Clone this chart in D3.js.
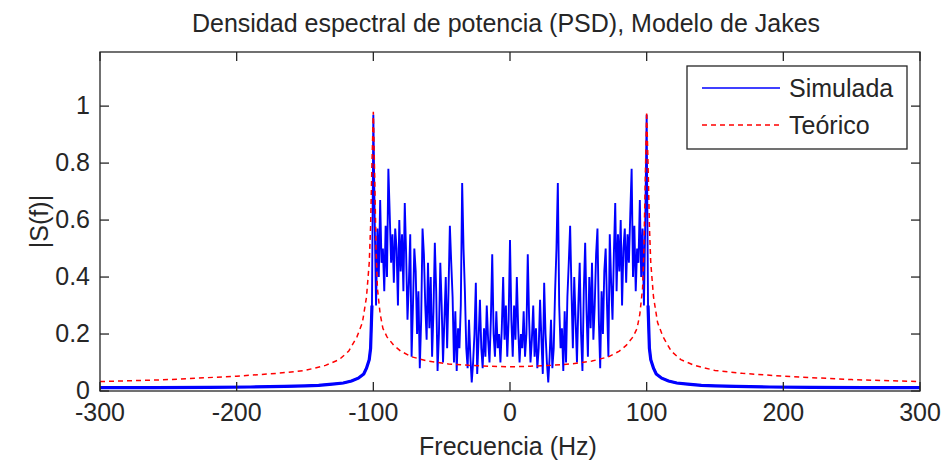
<!DOCTYPE html>
<meta charset="utf-8">
<title>PSD Jakes</title>
<style>
  body { margin: 0; background: #fff; }
  text { font-family: "Liberation Sans", Arial, sans-serif; fill: #262626; }
</style>
<div id="viz"></div>
<script src="https://cdnjs.cloudflare.com/ajax/libs/d3/7.8.5/d3.min.js"></script>
<script>

var width = 944;
var height = 467;

// axis limits and ticks
var xDomain = [-300, 300];
var yDomain = [0, 1.19];
var xTicks = [-300, -200, -100, 0, 100, 200, 300];
var yTicks = [0, 0.2, 0.4, 0.6, 0.8, 1];

// simulated PSD, wings (outside the Doppler band)
var wingFreqL = [-300, -260, -220, -190, -165, -150, -140, -130, -122, -116, -111, -107, -105, -103, -102, -101];
var wingPsdL  = [0.012, 0.012, 0.013, 0.014, 0.016, 0.018, 0.02, 0.024, 0.028, 0.035, 0.045, 0.06, 0.08, 0.11, 0.15, 0.30];
var wingFreqR = [101, 102, 103, 105, 107, 111, 116, 122, 130, 140, 150, 165, 190, 220, 260, 300];
var wingPsdR  = [0.30, 0.15, 0.11, 0.08, 0.06, 0.045, 0.035, 0.028, 0.024, 0.02, 0.018, 0.016, 0.014, 0.013, 0.012, 0.012];

// simulated PSD inside the band, one value per Hz from -100 to 100
var bandFreq = d3.range(-100, 101);
var bandPsd = [
  0.97, 0.60, 0.30, 0.57, 0.40, 0.67, 0.45, 0.50, 0.35, 0.58,
  0.40, 0.78, 0.62, 0.45, 0.55, 0.38, 0.57, 0.50, 0.30, 0.60,
  0.42, 0.55, 0.35, 0.66, 0.48, 0.25, 0.38, 0.55, 0.12, 0.30,
  0.50, 0.42, 0.20, 0.35, 0.08, 0.25, 0.57, 0.48, 0.30, 0.18,
  0.45, 0.22, 0.40, 0.12, 0.28, 0.52, 0.35, 0.07, 0.20, 0.45,
  0.30, 0.10, 0.25, 0.40, 0.15, 0.35, 0.58, 0.45, 0.33, 0.10,
  0.28, 0.07, 0.22, 0.15, 0.30, 0.73, 0.50, 0.35, 0.15, 0.08,
  0.25, 0.12, 0.03, 0.10, 0.20, 0.38, 0.06, 0.18, 0.32, 0.15,
  0.08, 0.22, 0.12, 0.30, 0.18, 0.10, 0.25, 0.48, 0.20, 0.12,
  0.28, 0.15, 0.20, 0.10, 0.22, 0.40, 0.18, 0.30, 0.12, 0.25,
  0.53,
  0.25, 0.12, 0.30, 0.18, 0.40, 0.22, 0.10, 0.20, 0.15, 0.28,
  0.12, 0.20, 0.48, 0.25, 0.10, 0.18, 0.30, 0.12, 0.22, 0.08,
  0.15, 0.32, 0.18, 0.06, 0.38, 0.20, 0.10, 0.03, 0.12, 0.25,
  0.08, 0.15, 0.35, 0.50, 0.73, 0.30, 0.15, 0.22, 0.07, 0.28,
  0.10, 0.33, 0.45, 0.58, 0.35, 0.15, 0.40, 0.25, 0.10, 0.30,
  0.45, 0.20, 0.07, 0.35, 0.52, 0.28, 0.12, 0.40, 0.22, 0.45,
  0.18, 0.30, 0.48, 0.57, 0.25, 0.08, 0.35, 0.20, 0.42, 0.50,
  0.30, 0.12, 0.55, 0.38, 0.25, 0.48, 0.66, 0.35, 0.55, 0.42,
  0.60, 0.30, 0.50, 0.57, 0.38, 0.55, 0.45, 0.62, 0.78, 0.40,
  0.58, 0.35, 0.50, 0.45, 0.67, 0.40, 0.57, 0.30, 0.60, 0.97
];

// theoretical Jakes PSD
var theoFreq = [-300, -250, -200, -170, -150, -135, -125, -118, -112, -108, -105, -103, -102, -101, -100,
  -99, -98, -97, -95, -93, -90, -85, -80, -72, -60, -45, -30, -15, 0,
  15, 30, 45, 60, 72, 80, 85, 90, 93, 95, 97, 98, 99,
  100, 101, 102, 103, 105, 108, 112, 118, 125, 135, 150, 170, 200, 250, 300];
var theoPsd = [0.033, 0.040, 0.052, 0.062, 0.072, 0.09, 0.11, 0.14, 0.19, 0.24, 0.33, 0.45, 0.58, 0.80, 0.98,
  0.75, 0.50, 0.36, 0.27, 0.22, 0.19, 0.16, 0.14, 0.12, 0.105, 0.095, 0.09, 0.087, 0.085,
  0.087, 0.09, 0.095, 0.105, 0.12, 0.14, 0.16, 0.19, 0.22, 0.27, 0.36, 0.50, 0.75,
  0.98, 0.80, 0.58, 0.45, 0.33, 0.24, 0.19, 0.14, 0.11, 0.09, 0.072, 0.062, 0.052, 0.040, 0.033];

var seriesNames = ["Simulada", "Teórico"];

// plot box (note: "top" is a window property, so use other names)
var pLeft = 100, pRight = 920, pTop = 52, pBottom = 391;

var x = d3.scaleLinear().domain(xDomain).range([pLeft, pRight]);
var y = d3.scaleLinear().domain(yDomain).range([pBottom, pTop]);

var svg = d3.select("#viz")
  .append("svg")
  .attr("width", width)
  .attr("height", height);

svg.append("clipPath").attr("id", "clip")
  .append("rect")
  .attr("x", pLeft).attr("y", pTop)
  .attr("width", pRight - pLeft).attr("height", pBottom - pTop);

var line = d3.line()
  .x(function(d) { return x(d[0]); })
  .y(function(d) { return y(d[1]); });

var plot = svg.append("g").attr("clip-path", "url(#clip)");

var simData = d3.zip(wingFreqL.concat(bandFreq, wingFreqR), wingPsdL.concat(bandPsd, wingPsdR));

// wings look like a thick band in the original
plot.append("path")
  .attr("d", line(d3.zip(wingFreqL, wingPsdL)))
  .attr("fill", "none")
  .attr("stroke", "#0000ff")
  .attr("stroke-width", 3.2);
plot.append("path")
  .attr("d", line(d3.zip(wingFreqR, wingPsdR)))
  .attr("fill", "none")
  .attr("stroke", "#0000ff")
  .attr("stroke-width", 3.2);

plot.append("path")
  .attr("d", line(simData))
  .attr("fill", "none")
  .attr("stroke", "#0000ff")
  .attr("stroke-width", 1.9)
  .attr("stroke-linejoin", "bevel");

plot.append("path")
  .attr("d", line(d3.zip(theoFreq, theoPsd)))
  .attr("fill", "none")
  .attr("stroke", "#ff0000")
  .attr("stroke-width", 1.5)
  .attr("stroke-dasharray", "5,4");

// box + ticks (MATLAB style, ticks inward on all sides)
var tickLen = 9;
var axes = svg.append("g")
  .attr("stroke", "#262626")
  .attr("stroke-width", 1.3)
  .attr("fill", "none");

axes.append("rect")
  .attr("x", pLeft).attr("y", pTop)
  .attr("width", pRight - pLeft).attr("height", pBottom - pTop);

xTicks.forEach(function(t) {
  axes.append("line").attr("x1", x(t)).attr("x2", x(t)).attr("y1", pBottom).attr("y2", pBottom - tickLen);
  axes.append("line").attr("x1", x(t)).attr("x2", x(t)).attr("y1", pTop).attr("y2", pTop + tickLen);
});
yTicks.forEach(function(t) {
  axes.append("line").attr("x1", pLeft).attr("x2", pLeft + tickLen).attr("y1", y(t)).attr("y2", y(t));
  axes.append("line").attr("x1", pRight).attr("x2", pRight - tickLen).attr("y1", y(t)).attr("y2", y(t));
});

var fs = 25;

svg.append("g").selectAll("text")
  .data(xTicks).enter().append("text")
  .attr("x", function(d) { return x(d); })
  .attr("y", pBottom + 30)
  .attr("text-anchor", "middle")
  .style("font-size", fs + "px")
  .text(function(d) { return d < 0 ? "-" + Math.abs(d) : d; });

svg.append("g").selectAll("text")
  .data(yTicks).enter().append("text")
  .attr("x", pLeft - 10)
  .attr("y", function(d) { return y(d) + 8; })
  .attr("text-anchor", "end")
  .style("font-size", fs + "px")
  .text(function(d) { return d; });

svg.append("text")
  .attr("x", 506).attr("y", 32)
  .attr("text-anchor", "middle")
  .style("font-size", "25px")
  .text("Densidad espectral de potencia (PSD), Modelo de Jakes");

svg.append("text")
  .attr("x", 508).attr("y", 455)
  .attr("text-anchor", "middle")
  .style("font-size", "25px")
  .text("Frecuencia (Hz)");

svg.append("text")
  .attr("transform", "translate(48," + ((pTop + pBottom) / 2) + ") rotate(-90)")
  .attr("text-anchor", "middle")
  .style("font-size", "25px")
  .text("|S(f)|");

// legend
var leg = svg.append("g");
leg.append("rect")
  .attr("x", 687).attr("y", 66)
  .attr("width", 220).attr("height", 83)
  .attr("fill", "#fff")
  .attr("stroke", "#262626")
  .attr("stroke-width", 1.3);

var legColors = ["#0000ff", "#ff0000"];
var legDash = [null, "5,4"];
seriesNames.forEach(function(name, i) {
  var ly = 88 + i * 37;
  leg.append("line")
    .attr("x1", 702).attr("x2", 780)
    .attr("y1", ly).attr("y2", ly)
    .attr("stroke", legColors[i])
    .attr("stroke-width", 1.5)
    .attr("stroke-dasharray", legDash[i]);
  leg.append("text")
    .attr("x", 789).attr("y", ly + 9)
    .style("font-size", fs + "px")
    .text(name);
});

</script>
